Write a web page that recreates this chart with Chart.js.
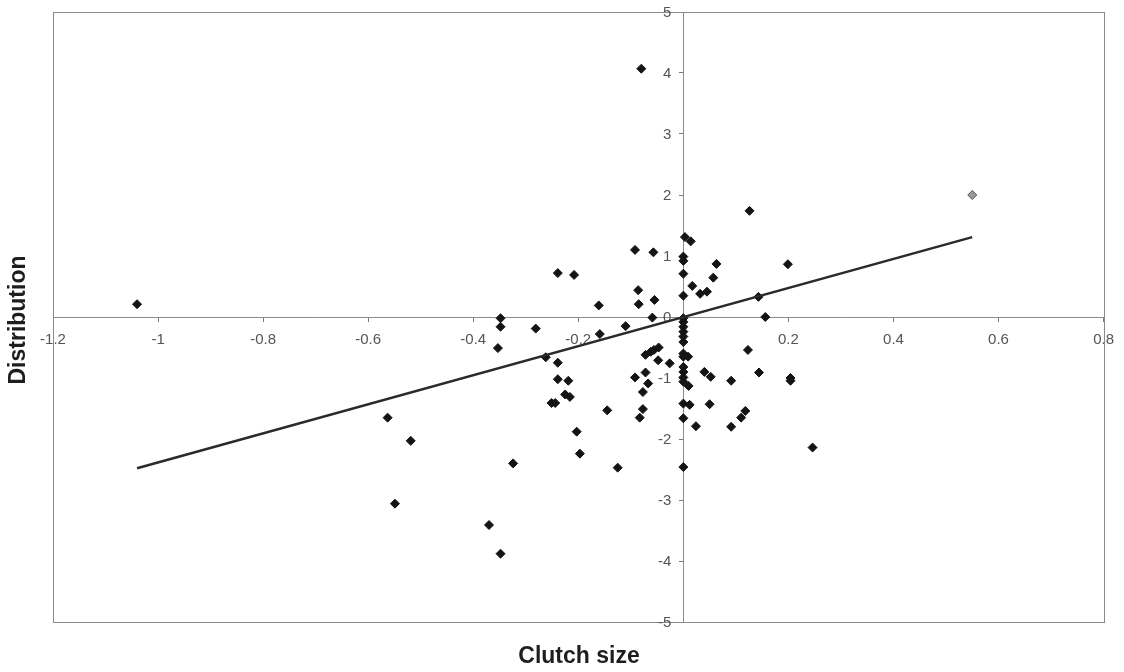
<!DOCTYPE html>
<html>
<head>
<meta charset="utf-8">
<script src="https://cdn.jsdelivr.net/npm/chart.js@4.4.1/dist/chart.umd.min.js"></script>
<style>
  html, body { margin: 0; padding: 0; background: #ffffff; }
  #wrap { position: relative; width: 1124px; height: 672px; }
</style>
</head>
<body>
<div id="wrap"><canvas id="c" width="1124" height="672"></canvas></div>
<script>
// ---- data ----
const clutchSize = [
  -1.040, -0.563, -0.519, -0.549, -0.370, -0.348, -0.324, -0.348, -0.348, -0.353,
  -0.281, -0.262, -0.239, -0.239, -0.219, -0.225, -0.216, -0.251, -0.244, -0.203,
  -0.197, -0.239, -0.208, -0.161, -0.159, -0.145, -0.125, -0.110, -0.092, -0.086,
  -0.085, -0.080, -0.057, -0.055, -0.059, -0.092, -0.072, -0.067, -0.077, -0.077,
  -0.083, -0.072, -0.062, -0.056, -0.047, -0.048, -0.026,
  0, 0, 0, 0, 0, 0, 0, 0, 0, 0, 0, 0, 0, 0, 0, 0, 0, 0, 0,
  0.003, 0.014, 0.017, 0.032, 0.045, 0.057, 0.063, 0.009, 0.010, 0.012,
  0.024, 0.040, 0.052, 0.050, 0.091, 0.091, 0.110, 0.118, 0.123, 0.126,
  0.143, 0.144, 0.156, 0.199, 0.204, 0.204, 0.246
];
const distribution = [
  0.21, -1.65, -2.03, -3.06, -3.41, -3.88, -2.40, -0.02, -0.16, -0.51,
  -0.19, -0.66, -0.75, -1.02, -1.045, -1.27, -1.31, -1.41, -1.41, -1.88,
  -2.24, 0.72, 0.69, 0.19, -0.28, -1.53, -2.47, -0.15, 1.10, 0.44,
  0.21, 4.07, 1.06, 0.28, -0.01, -0.99, -0.91, -1.09, -1.23, -1.51,
  -1.65, -0.62, -0.57, -0.54, -0.50, -0.71, -0.76,
  0.99, 0.92, 0.71, 0.35, -0.02, -0.08, -0.16, -0.24, -0.32, -0.41, -0.60, -0.65, -0.82, -0.90, -0.99, -1.06, -1.42, -1.66, -2.46,
  1.31, 1.24, 0.51, 0.38, 0.415, 0.645, 0.87, -0.65, -1.13, -1.44,
  -1.79, -0.90, -0.98, -1.43, -1.045, -1.80, -1.65, -1.54, -0.54, 1.74,
  0.33, -0.91, 0.00, 0.865, -1.00, -1.045, -2.14
];
const highlightX = [0.55];
const highlightY = [2.0];
const trendX = [-1.04, 0.55];
const trendY = [-2.48, 1.31];
const xTicks = [-1.2, -1, -0.8, -0.6, -0.4, -0.2, 0, 0.2, 0.4, 0.6, 0.8];
const xTickLabels = ['-1.2', '-1', '-0.8', '-0.6', '-0.4', '-0.2', '', '0.2', '0.4', '0.6', '0.8'];
const yTicks = [-5, -4, -3, -2, -1, 0, 1, 2, 3, 4, 5];
const yTickLabels = ['-5', '-4', '-3', '-2', '-1', '0', '1', '2', '3', '4', '5'];
const xTitle = 'Clutch size';
const yTitle = 'Distribution';

const toPts = (xs, ys) => xs.map((x, i) => ({ x: x, y: ys[i] }));
const tickFont = '15px "Liberation Sans", Arial, sans-serif';

const frameAndTitles = {
  id: 'frameAndTitles',
  beforeDatasetsDraw(chart) {
    const { ctx, chartArea: a } = chart;
    ctx.save();
    ctx.strokeStyle = '#8a8a8a';
    ctx.lineWidth = 1;
    ctx.strokeRect(Math.round(a.left) + 0.5, Math.round(a.top) + 0.5,
                   Math.round(a.right - a.left), Math.round(a.bottom - a.top));
    // y tick labels, placed left of the crossing y axis
    const xs = chart.scales.x, ys = chart.scales.y;
    const ax = xs.getPixelForValue(0);
    ctx.fillStyle = '#555555';
    ctx.font = tickFont;
    ctx.textAlign = 'right';
    ctx.textBaseline = 'middle';
    yTicks.forEach((v, i) => {
      ctx.fillText(yTickLabels[i], ax - 12, ys.getPixelForValue(v) + 1);
    });
    ctx.restore();
  },
  afterDraw(chart) {
    const { ctx } = chart;
    ctx.save();
    ctx.fillStyle = '#1e1e1e';
    ctx.font = 'bold 23px "Liberation Sans", Arial, sans-serif';
    ctx.textAlign = 'center';
    ctx.textBaseline = 'middle';
    ctx.fillText(xTitle, 579, 657);
    ctx.translate(19, 320);
    ctx.rotate(-Math.PI / 2);
    ctx.fillText(yTitle, 0, 0);
    ctx.restore();
  }
};

new Chart(document.getElementById('c'), {
  type: 'scatter',
  data: {
    datasets: [
      {
        data: toPts(clutchSize, distribution),
        pointStyle: 'rectRot',
        pointRadius: 4.5,
        pointHoverRadius: 4.5,
        backgroundColor: '#141414',
        borderColor: '#141414',
        borderWidth: 1,
        order: 2
      },
      {
        data: toPts(highlightX, highlightY),
        pointStyle: 'rectRot',
        pointRadius: 4.5,
        backgroundColor: '#9a9a9a',
        borderColor: '#555555',
        borderWidth: 1,
        order: 3
      },
      {
        type: 'line',
        data: toPts(trendX, trendY),
        borderColor: '#2a2a2a',
        borderWidth: 2.5,
        pointRadius: 0,
        fill: false,
        order: 1
      }
    ]
  },
  options: {
    responsive: false,
    animation: false,
    devicePixelRatio: 1,
    layout: { padding: { left: 53, right: 19, top: 12, bottom: 50 } },
    plugins: { legend: { display: false }, tooltip: { enabled: false } },
    scales: {
      x: {
        type: 'linear',
        position: { y: 0 },
        min: -1.2, max: 0.8,
        afterBuildTicks: (s) => { s.ticks = xTicks.map(v => ({ value: v })); },
        ticks: {
          callback: (v, i) => xTickLabels[i],
          color: '#555555',
          font: { family: '"Liberation Sans", Arial, sans-serif', size: 15 },
          padding: 10,
          maxRotation: 0,
          autoSkip: false
        },
        grid: { drawOnChartArea: false, drawTicks: true, tickLength: 4, tickColor: '#777777' },
        border: { display: true, color: '#8a8a8a', width: 1 }
      },
      y: {
        type: 'linear',
        position: { x: 0 },
        min: -5, max: 5,
        afterBuildTicks: (s) => { s.ticks = yTicks.map(v => ({ value: v })); },
        ticks: { display: false },
        grid: { drawOnChartArea: false, drawTicks: true, tickLength: 4, tickColor: '#777777' },
        border: { display: true, color: '#8a8a8a', width: 1 }
      }
    }
  },
  plugins: [frameAndTitles]
});
</script>
</body>
</html>
